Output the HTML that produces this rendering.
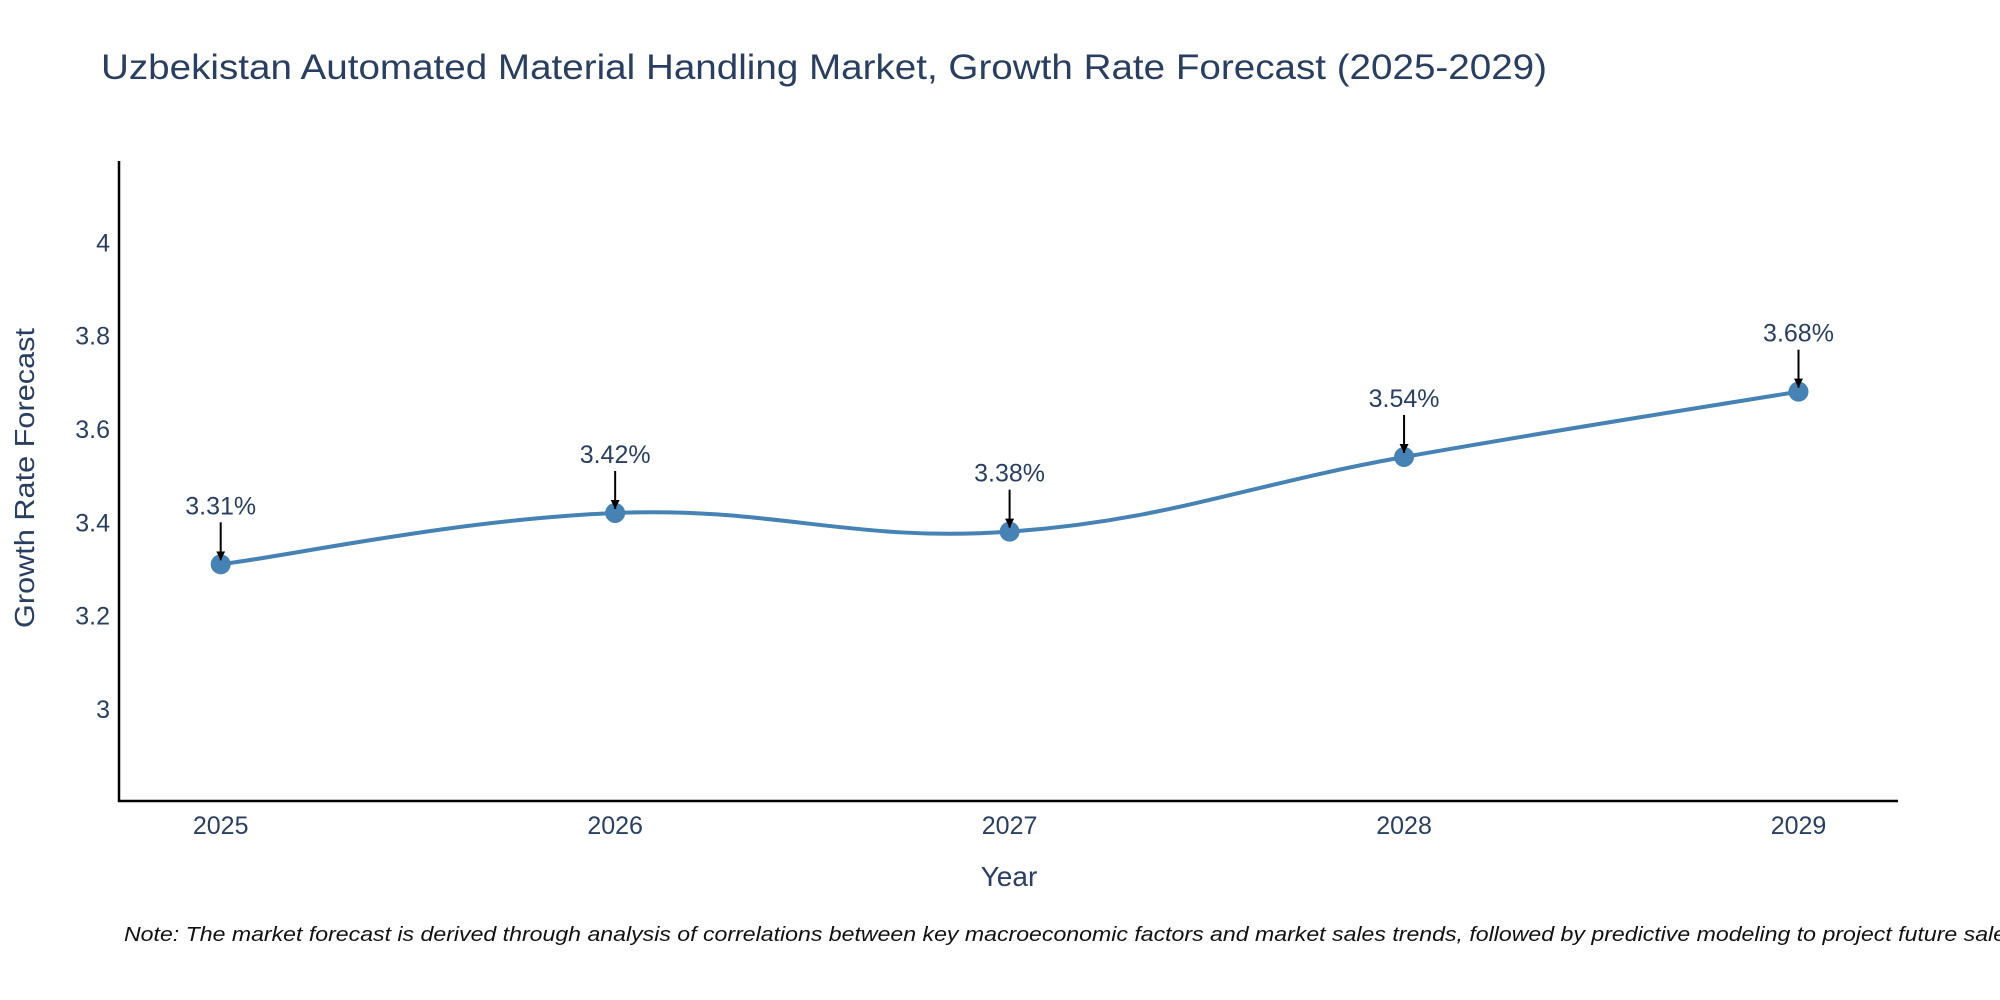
<!DOCTYPE html>
<html><head><meta charset="utf-8"><style>
html,body{margin:0;padding:0;background:#fff;overflow:hidden;}
svg{display:block;font-family:"Liberation Sans",sans-serif;}
</style></head><body>
<svg id="chart" width="2000" height="1000" viewBox="0 0 2000 1000" xmlns="http://www.w3.org/2000/svg">
<defs><marker id="ah" viewBox="0 0 10 10" refX="10" refY="5" markerWidth="4.5" markerHeight="4.5" markerUnits="strokeWidth" orient="auto"><path d="M0,0 L10,5 L0,10 z" fill="#000"/></marker></defs>
<text x="101" y="79" font-size="35" fill="#2a3f5f" textLength="1446" lengthAdjust="spacingAndGlyphs">Uzbekistan Automated Material Handling Market, Growth Rate Forecast (2025-2029)</text>
<g id="yticks"></g><g id="xticks"></g>
<line x1="119" y1="161" x2="119" y2="802" stroke="#000" stroke-width="2.5"/>
<line x1="118" y1="801" x2="1898" y2="801" stroke="#000" stroke-width="2.5"/>
<path id="series" fill="none" stroke="#4682b4" stroke-width="4"/>
<g id="marks"></g>
<text transform="translate(34,478) rotate(-90)" text-anchor="middle" font-size="28" fill="#2a3f5f" textLength="300" lengthAdjust="spacingAndGlyphs">Growth Rate Forecast</text>
<text x="1009" y="886" text-anchor="middle" font-size="28" fill="#2a3f5f">Year</text>
<text x="124" y="941" font-size="20" font-style="italic" fill="#111" textLength="1900" lengthAdjust="spacingAndGlyphs">Note: The market forecast is derived through analysis of correlations between key macroeconomic factors and market sales trends, followed by predictive modeling to project future sales.</text>
</svg>
<script>
const years = ["2025","2026","2027","2028","2029"];
const values = [3.31, 3.42, 3.38, 3.54, 3.68];
const labels = ["3.31%","3.42%","3.38%","3.54%","3.68%"];
const yTicks = [3, 3.2, 3.4, 3.6, 3.8, 4];
const yTickLabels = ["3","3.2","3.4","3.6","3.8","4"];
const NS="http://www.w3.org/2000/svg";
function xPos(i){return 220.7+i*(1798.5-220.7)/(years.length-1);}
function yPos(v){return 709-(v-3)*(709-242.3);}
function mk(t,a){const e=document.createElementNS(NS,t);for(const k in a)e.setAttribute(k,a[k]);return e;}
const yt=document.getElementById('yticks');
yTicks.forEach((v,i)=>{const t=mk('text',{x:110,y:yPos(v)+9,'text-anchor':'end','font-size':25,fill:'#2a3f5f'});


t.textContent=yTickLabels[i];yt.appendChild(t);});
const xt=document.getElementById('xticks');
years.forEach((y,i)=>{const t=mk('text',{x:xPos(i),y:834,'text-anchor':'middle','font-size':25,fill:'#2a3f5f'});


t.textContent=y;xt.appendChild(t);});
const pts=values.map((v,i)=>[xPos(i),yPos(v)]);
let d='M'+pts[0][0]+','+pts[0][1];const s=0.2;
for(let i=0;i<pts.length-1;i++){const p0=pts[i-1]||pts[i],p1=pts[i],p2=pts[i+1],p3=pts[i+2]||p2;
const c1=[p1[0]+(p2[0]-p0[0])*s,p1[1]+(p2[1]-p0[1])*s],c2=[p2[0]-(p3[0]-p1[0])*s,p2[1]-(p3[1]-p1[1])*s];
d+=' C'+c1+' '+c2+' '+p2;}
document.getElementById('series').setAttribute('d',d);
const g=document.getElementById('marks');
pts.forEach((p,i)=>{
const c=mk('circle',{cx:p[0],cy:p[1],r:10,fill:'#4682b4'});


g.appendChild(c);
const a=mk('line',{x1:p[0],y1:p[1]-42,x2:p[0],y2:p[1]-4,stroke:'#000','stroke-width':2,'marker-end':'url(#ah)'});


g.appendChild(a);
const t=mk('text',{x:p[0],y:p[1]-50,'text-anchor':'middle','font-size':25,fill:'#2a3f5f'});


t.textContent=labels[i];g.appendChild(t);});
</script>
</body></html>
